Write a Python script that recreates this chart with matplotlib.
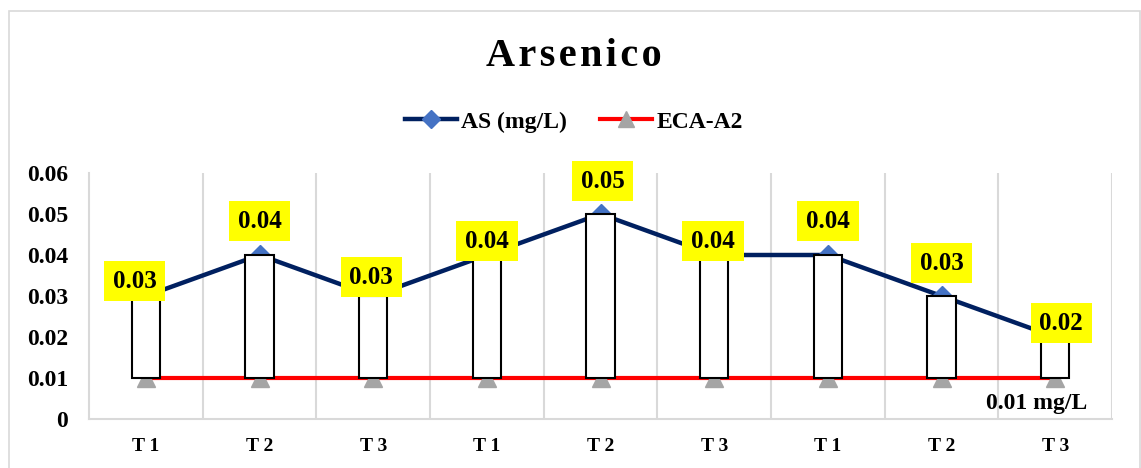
import matplotlib.pyplot as plt
from matplotlib.patches import Rectangle
import numpy as np

plt.rcParams['font.family'] = ['Liberation Serif', 'DejaVu Serif']
plt.rcParams['font.weight'] = 'bold'

# sampling points and measured arsenic (mg/L)
categories = ["T 1", "T 2", "T 3", "T 1", "T 2", "T 3", "T 1", "T 2", "T 3"]
as_values = [0.03, 0.04, 0.03, 0.04, 0.05, 0.04, 0.04, 0.03, 0.02]
eca_a2 = [0.01, 0.01, 0.01, 0.01, 0.01, 0.01, 0.01, 0.01, 0.01]

# label placement (pixels from the point)
label_dx = [-11, 0, -2, 0, 2, -1, 0, 0, 6]
label_dy = [15, 34, 19, 14, 33, 14, 34, 33, 14]

W, H = 1141, 468
fig = plt.figure(figsize=(W / 100, H / 100), dpi=100)
ax = fig.add_axes([89 / W, 1 - 419 / H, (1112 - 89) / W, (419 - 173) / H])

# chart frame
fig.patches.append(Rectangle((9 / W, -0.1), 1131 / W, 1.1 - 11 / H,
                             transform=fig.transFigure, fill=False,
                             edgecolor='#D9D9D9', linewidth=1.2))

x = np.arange(len(categories))

ax.plot(x, eca_a2, color='#FF0000', linewidth=3, marker='^', markersize=13,
        markerfacecolor='#A5A5A5', markeredgecolor='#A5A5A5', zorder=2, label='ECA-A2')
ax.plot(x, as_values, color='#002060', linewidth=3.2, marker='D', markersize=10,
        markerfacecolor='#4472C4', markeredgecolor='#4472C4', zorder=2, label='AS (mg/L)')

# up/down bars between the limit and the measured value
ax.bar(x, np.array(as_values) - np.array(eca_a2), bottom=eca_a2, width=0.25,
       color='white', edgecolor='black', linewidth=1.5, zorder=3)

for i, v in enumerate(as_values):
    ax.annotate(f"{v:.2f}", (x[i], v), xytext=(label_dx[i], label_dy[i]),
                textcoords='offset pixels', ha='center', va='center',
                fontsize=18, fontweight='bold', zorder=5,
                bbox=dict(boxstyle='square,pad=0.35', facecolor='#FFFF00', edgecolor='none'))

fig.text(1087 / W, 1 - 403 / H, "0.01 mg/L", ha='right', va='center',
         fontsize=17, fontweight='bold')

ax.set_xlim(-0.5, len(categories) - 0.5)
ax.set_ylim(0, 0.06)
ax.set_yticks([0, 0.01, 0.02, 0.03, 0.04, 0.05, 0.06])
ax.set_yticklabels(["0", "0.01", "0.02", "0.03", "0.04", "0.05", "0.06"], fontsize=17)
ax.set_xticks(x)
ax.set_xticklabels(categories, fontsize=14)
ax.tick_params(axis='both', length=0)
ax.tick_params(axis='y', pad=15)
ax.tick_params(axis='x', pad=14)

# vertical separators between categories
for b in np.arange(0.5, len(categories), 1):
    ax.axvline(b, color='#D9D9D9', linewidth=1.5, zorder=0)
for side in ['top', 'right']:
    ax.spines[side].set_visible(False)
for side in ['left', 'bottom']:
    ax.spines[side].set_color('#D9D9D9')
    ax.spines[side].set_linewidth(1.5)

fig.text(0.503, 1 - 56 / H, "\u200a".join("Arsenico"), ha='center', va='center',
         fontsize=29, fontweight='bold')

handles, labels = ax.get_legend_handles_labels()
fig.legend(handles[::-1], labels[::-1], loc='center', bbox_to_anchor=(0.503, 1 - 122 / H),
           ncol=2, frameon=False, fontsize=17, handlelength=2.2, columnspacing=1.4,
           handletextpad=0.2, markerscale=0.9)

fig.savefig('out.png', dpi=100)
